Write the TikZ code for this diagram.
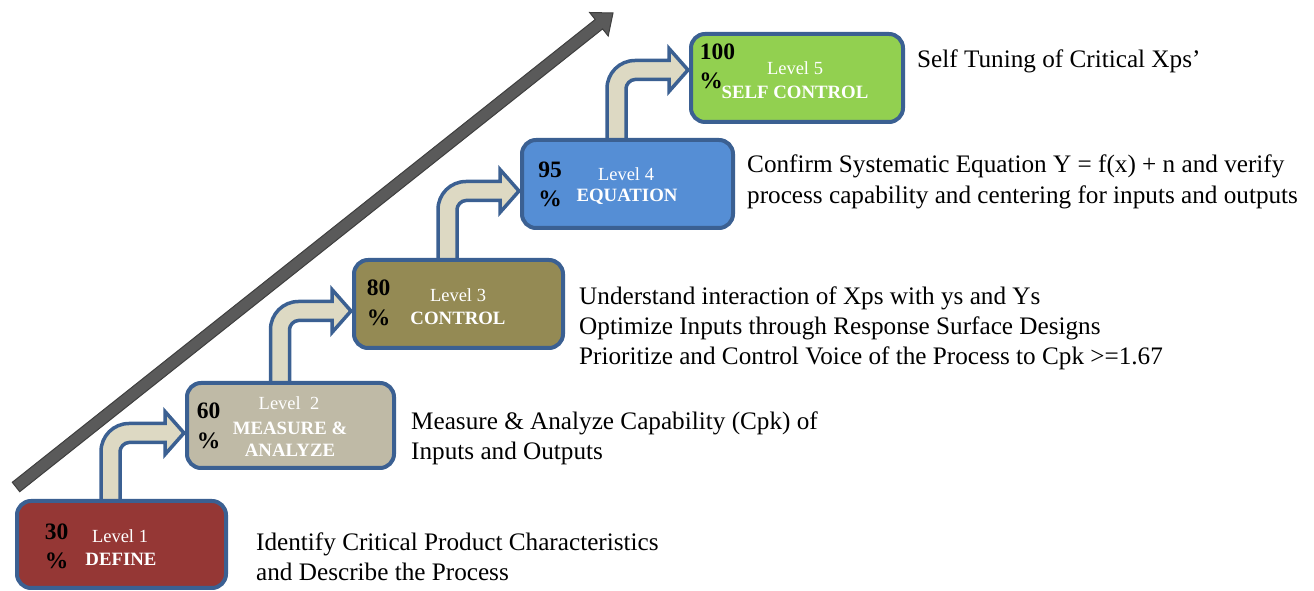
\documentclass[tikz,border=0pt]{standalone}
\usepackage{fontspec}
\setmainfont{Liberation Serif}
\usetikzlibrary{calc,backgrounds}

\definecolor{edge}{HTML}{3B6092}
\definecolor{shaft}{HTML}{DDD9C3}
\definecolor{lvlone}{HTML}{953735}
\definecolor{lvltwo}{HTML}{BFBAA6}
\definecolor{lvlthree}{HTML}{948A54}
\definecolor{lvlfour}{HTML}{558ED5}
\definecolor{lvlfive}{HTML}{92D050}
\definecolor{trend}{HTML}{5A5A5A}
\definecolor{trendedge}{HTML}{3F3F3F}

\tikzset{
  stepbox/.style={draw=edge, line width=4pt, rounded corners=14pt,
    minimum width=209pt, minimum height=87pt, inner sep=0pt},
  pct/.style={inner sep=0pt, font=\fontsize{23.5}{27}\selectfont\bfseries, text=black},
  lvl/.style={inner sep=0pt, font=\fontsize{18.5}{22}\selectfont, text=white},
  stage/.style={inner sep=0pt, font=\fontsize{18.8}{22}\selectfont\bfseries, text=white},
  desc/.style={inner sep=0pt, anchor=base west, font=\fontsize{25.2}{30}\selectfont},
  bent/.style={draw=edge, line width=3.5pt, fill=shaft, line join=miter},
  bigarrow/.style={fill=trend, draw=trendedge, line width=1pt, line join=miter},
}

% bent block arrow: #1 = foot of the shaft, #2 = tip of the head
\newcommand\bentarrow[2]{%
  \draw[bent] ($(#1)+(-9.5,0)$) -- ($(#1|-#2)+(-9.5,-18.5)$)
    .. controls ($(#1|-#2)+(-9.5,-3.04)$) and ($(#1|-#2)+(3.04,9.5)$) .. ($(#1|-#2)+(18.5,9.5)$)
    -- ($(#2)+(-19,9.5)$) -- ($(#2)+(-19,21.5)$) -- (#2) -- ($(#2)+(-19,-21.5)$)
    -- ($(#2)+(-19,-9.5)$) -- ($(#1|-#2)+(18.5,-9.5)$)
    .. controls ($(#1|-#2)+(13.53,-9.5)$) and ($(#1|-#2)+(9.5,-14.47)$) .. ($(#1|-#2)+(9.5,-18.5)$)
    -- ($(#1)+(9.5,0)$) -- cycle;}

\begin{document}
\begin{tikzpicture}[x=1pt,y=1pt]
\useasboundingbox (0,0) rectangle (1314,591);

% rising trend arrow
\fill[bigarrow] (12.3,108.7) -- (595.2,571.5) -- (589.6,578.5) -- (613,578)
  -- (608.2,555.0) -- (602.6,562.1) -- (19.7,99.3) -- cycle;

% the five levels
\node[stepbox, fill=lvlone]   (b1) at (121.5,46.5) {};
\node[stepbox, fill=lvltwo, minimum width=207pt, minimum height=85pt] (b2) at (290.5,165.5) {};
\node[stepbox, fill=lvlthree, minimum height=88pt] (b3) at (458.5,287) {};
\node[stepbox, fill=lvlfour, minimum width=211pt, minimum height=88pt] (b4) at (627.5,407) {};
\node[stepbox, fill=lvlfive, minimum width=212pt, minimum height=88pt] (b5) at (797,513) {};

% arrows leading from one level up to the next
\coordinate (s1) at ($(b1.north)+(-11,-6)$);
\coordinate (t1) at ($(b2.west)+(-1,-7.5)$);
\coordinate (s2) at ($(b2.north)+(-10.5,-6)$);
\coordinate (t2) at ($(b3.west)+(-1,-7)$);
\coordinate (s3) at ($(b3.north)+(-11,-6)$);
\coordinate (t3) at ($(b4.west)+(-1,-7)$);
\coordinate (s4) at ($(b4.north)+(-11,-6)$);
\coordinate (t4) at ($(b5.west)+(-1,8)$);
\begin{pgfonlayer}{background}
  \bentarrow{s1}{t1}
  \bentarrow{s2}{t2}
  \bentarrow{s3}{t3}
  \bentarrow{s4}{t4}
\end{pgfonlayer}

% level 1
\node[pct] (p1a) at (56.5,59) {30};
\node[pct] (p1b) at (56.5,30) {\%};
\node[lvl] (l1) at (120,55) {Level 1};
\node[stage] (n1) at (121,32) {DEFINE};
% level 2
\node[pct] (p2a) at (208.5,180) {60};
\node[pct] (p2b) at (208.5,150) {\%};
\node[lvl] (l2) at (289,188) {Level\ \ 2};
\node[stage] (n2a) at (290,163) {MEASURE \&};
\node[stage] (n2b) at (290,141) {ANALYZE};
% level 3
\node[pct] (p3a) at (378.5,303) {80};
\node[pct] (p3b) at (378.5,273) {\%};
\node[lvl] (l3) at (458,296) {Level 3};
\node[stage] (n3) at (458,273) {CONTROL};
% level 4
\node[pct] (p4a) at (550,421) {95};
\node[pct] (p4b) at (550,392) {\%};
\node[lvl] (l4) at (626,417) {Level 4};
\node[stage] (n4) at (627,394) {EQUATION};
% level 5
\node[pct] (p5a) at (717.5,539) {100};
\node[pct] (p5b) at (711,510) {\%};
\node[lvl] (l5) at (795,523) {Level 5};
\node[stage] (n5) at (795,499) {SELF CONTROL};

% descriptions
\node[desc] (d1a) at (256,40) {Identify Critical Product Characteristics};
\node[desc] (d1b) at (256,10) {and Describe the Process};
\node[desc] (d2a) at (411,161) {Measure \& Analyze Capability (Cpk) of};
\node[desc] (d2b) at (411,131) {Inputs and Outputs};
\node[desc] (d3a) at (579,286) {Understand interaction of Xps with ys and Ys};
\node[desc] (d3b) at (579,256) {Optimize Inputs through Response Surface Designs};
\node[desc] (d3c) at (579,226) {Prioritize and Control Voice of the Process to Cpk >=1.67};
\node[desc] (d4a) at (747,418) {Confirm Systematic Equation Y = f(x) + n and verify};
\node[desc] (d4b) at (747,387) {process capability and centering for inputs and outputs};
\node[desc] (d5) at (917,523) {Self Tuning of Critical Xps’};
\end{tikzpicture}
\end{document}
